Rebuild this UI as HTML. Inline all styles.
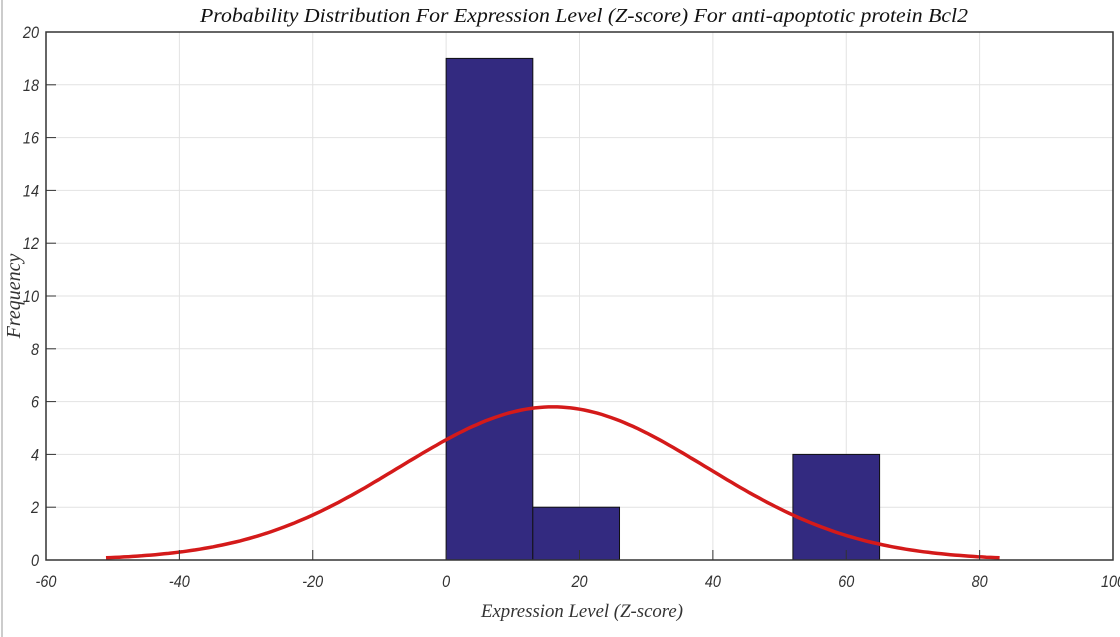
<!DOCTYPE html>
<html><head><meta charset="utf-8"><style>
body{margin:0;background:#fff;width:1120px;height:637px;overflow:hidden}
svg{display:block}
text{font-family:"Liberation Sans Narrow","Liberation Sans",sans-serif;font-style:italic;fill:#333}
</style></head><body>
<svg id="c" width="1120" height="637">
<line x1="2" y1="0" x2="2" y2="637" stroke="#ccc" stroke-width="2"/>
<text x="200" y="22" font-size="20" textLength="768" lengthAdjust="spacingAndGlyphs" style="fill:#111;font-family:'Liberation Serif',serif">Probability Distribution For Expression Level (Z-score) For anti-apoptotic protein Bcl2</text>
<text x="481" y="617" font-size="19" textLength="202" lengthAdjust="spacingAndGlyphs" style="font-family:'Liberation Serif',serif">Expression Level (Z-score)</text>
<text x="0" y="0" font-size="20" text-anchor="middle" transform="translate(20,296) rotate(-90)" style="font-family:'Liberation Serif',serif">Frequency</text>
<g id="grid"></g><g id="bars"></g><g id="curve"></g><g id="axes"></g>
</svg>
<script>
const xTicks=[-60,-40,-20,0,20,40,60,80,100];
const yTicks=[0,2,4,6,8,10,12,14,16,18,20];
const binStarts=[0,13,52];
const binWidth=13;
const counts=[19,2,4];
const fitMean=[16];
const fitStd=[23];
const fitPeak=[5.8];
const fitRange=[-51,83];
const L=46,R=1113,T=32,B=560;
const xs=v=>L+(v+60)/160*(R-L);
const ys=v=>B-v/20*(B-T);
const ns='http://www.w3.org/2000/svg';
function mk(p,t,a){const e=document.createElementNS(ns,t);for(const k in a)e.setAttribute(k,a[k]);document.getElementById(p).appendChild(e);return e;}
xTicks.forEach(v=>{
 const g=mk('grid','line',{x1:xs(v),x2:xs(v),y1:T,y2:B,stroke:'#e2e2e2'});
 
 
 const t=mk('axes','text',{x:xs(v),y:B+27,'font-size':17,'text-anchor':'middle',transform:`translate(${xs(v)*0.15},0) scale(0.85,1)`});t.textContent=v;
 
 
 const k=mk('axes','line',{x1:xs(v),x2:xs(v),y1:B,y2:B-10,stroke:'#333'});
 
 
});
yTicks.forEach(v=>{
 const g=mk('grid','line',{x1:L,x2:R,y1:ys(v),y2:ys(v),stroke:'#e2e2e2'});
 
 
 const t=mk('axes','text',{x:L-7,y:ys(v)+6,'font-size':17,'text-anchor':'end',transform:`translate(${(L-7)*0.15},0) scale(0.85,1)`});t.textContent=v;
 
 
 const k=mk('axes','line',{x1:L,x2:L+10,y1:ys(v),y2:ys(v),stroke:'#333'});
 
 
});
binStarts.forEach((s,i)=>{
 const r=mk('bars','rect',{x:xs(s),y:ys(counts[i]),width:xs(s+binWidth)-xs(s),height:ys(0)-ys(counts[i]),fill:'#332a80',stroke:'#111','stroke-width':1});
 
 
});
let d='';
for(let i=0;i<=200;i++){const x=fitRange[0]+(fitRange[1]-fitRange[0])*i/200;const y=fitPeak[0]*Math.exp(-((x-fitMean[0])**2)/(2*fitStd[0]**2));d+=(i?'L':'M')+xs(x).toFixed(1)+','+ys(y).toFixed(1);}
const p=mk('curve','path',{d:d,fill:'none',stroke:'#d41a1a','stroke-width':3.5});


const f=mk('axes','rect',{x:L,y:T,width:R-L,height:B-T,fill:'none',stroke:'#333','stroke-width':1.5});


</script>
</body></html>
